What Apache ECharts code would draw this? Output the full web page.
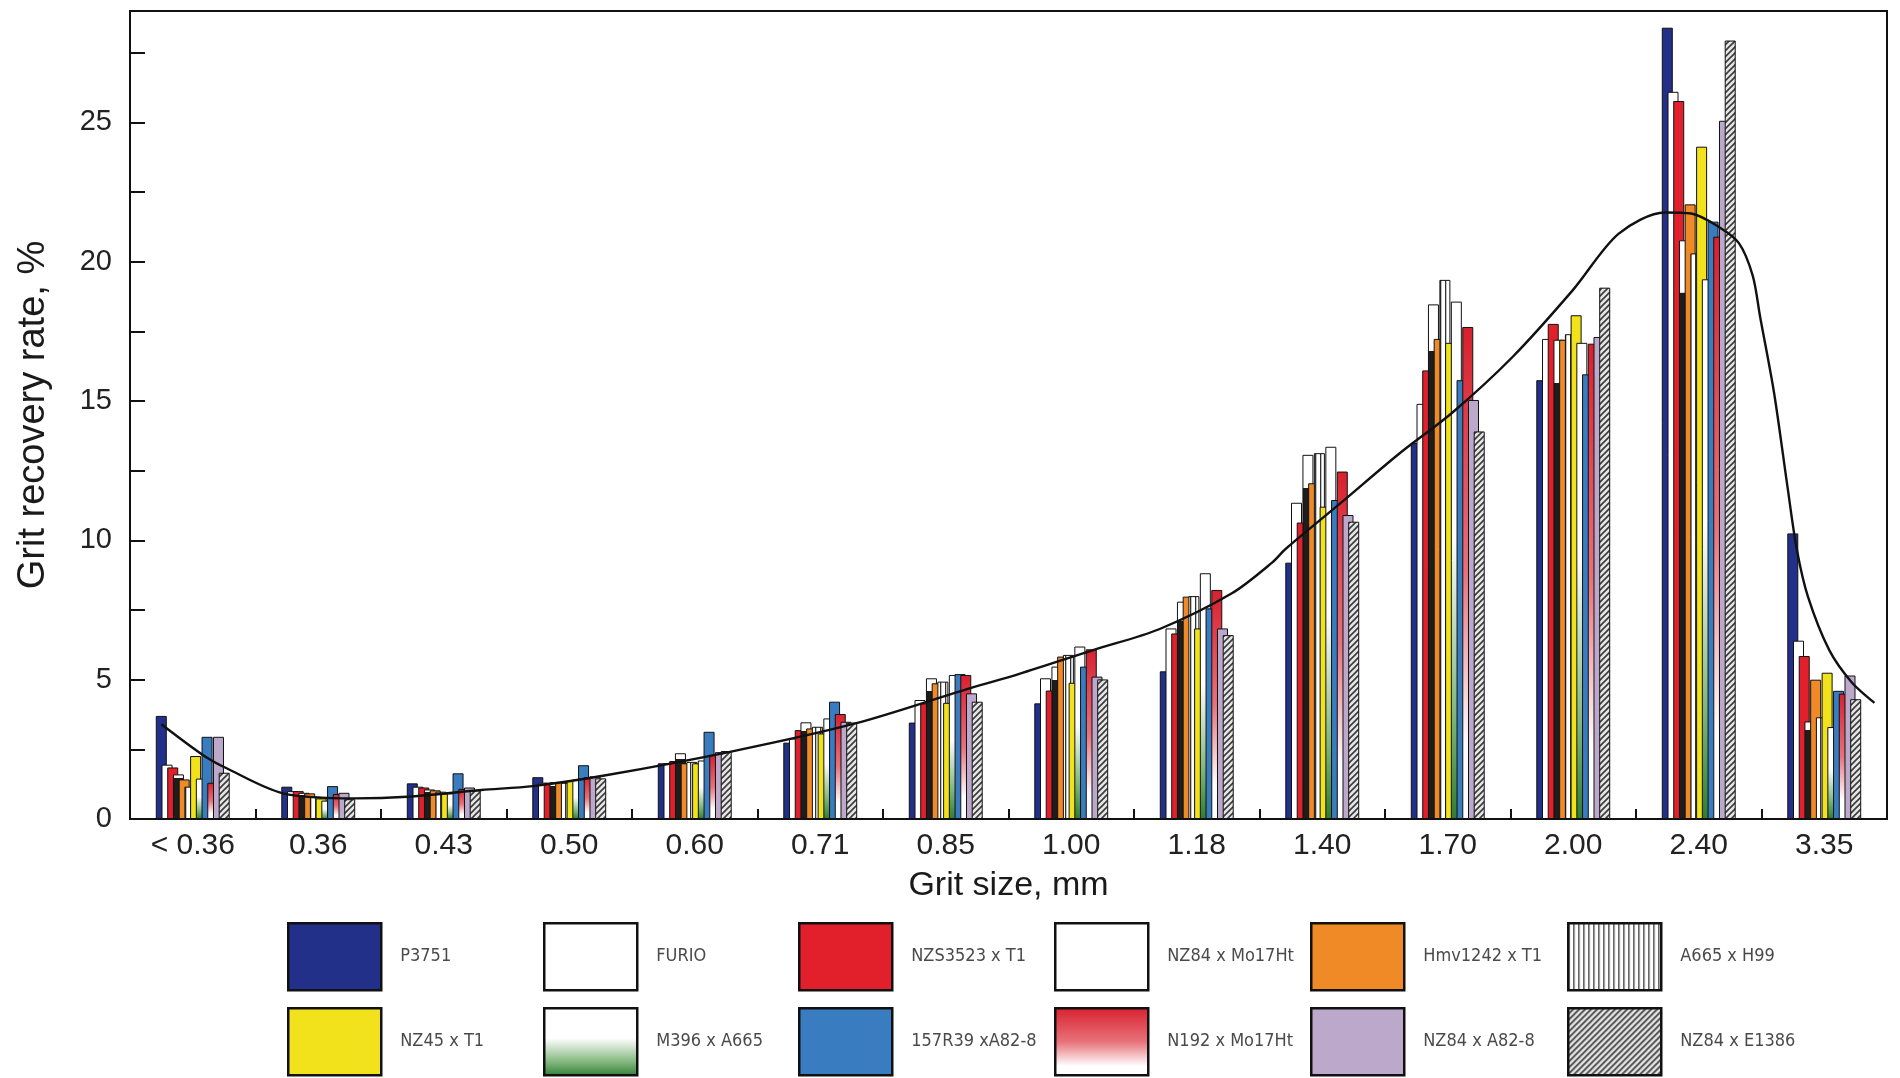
<!DOCTYPE html>
<html>
<head>
<meta charset="utf-8">
<title>Grit recovery rate by grit size</title>
<script src="https://cdn.jsdelivr.net/npm/echarts@6/dist/echarts.min.js"></script>
<style>
  html, body { margin: 0; padding: 0; background: #fff; }
  #chart { width: 1900px; height: 1078px; }
</style>
</head>
<body>
<div id="chart"></div>
<script>
// Grit size classes (mm)
const categories = ['< 0.36', '0.36', '0.43', '0.50', '0.60', '0.71', '0.85', '1.00', '1.18', '1.40', '1.70', '2.00', '2.40', '3.35'];

// Grit recovery rate (%) per hybrid / line
const P3751        = [3.70, 1.16, 1.28, 1.50, 2.00, 2.74, 3.46, 4.15, 5.30, 9.20, 13.50, 15.75, 28.40, 10.25];
const FURIO        = [1.95, 1.00, 1.16, 1.30, 2.00, 2.89, 4.27, 5.05, 6.84, 11.35, 14.90, 17.23, 26.10, 6.40];
const NZS3523_T1   = [1.85, 1.00, 1.13, 1.30, 2.08, 3.19, 4.15, 4.61, 6.66, 10.64, 16.10, 17.77, 25.77, 5.85];
const NZ84_Mo17Ht  = [1.60, 0.94, 1.06, 1.32, 2.36, 3.47, 5.05, 5.47, 7.80, 13.07, 18.47, 17.20, 20.77, 3.50];
const Hmv1242_T1   = [1.42, 0.92, 1.03, 1.33, 2.00, 3.25, 4.87, 5.83, 7.98, 12.05, 17.23, 17.20, 22.06, 5.00];
const A665_H99     = [1.16, 0.80, 0.98, 1.30, 2.05, 3.31, 4.93, 5.89, 8.00, 13.13, 19.35, 17.40, 20.30, 3.65];
const NZ45_T1      = [2.26, 0.74, 0.92, 1.38, 2.00, 3.07, 4.17, 4.89, 6.84, 11.21, 17.09, 18.08, 24.13, 5.25];
const M396_A665    = [1.45, 0.66, 0.92, 1.42, 2.10, 3.61, 5.17, 6.19, 8.82, 13.36, 18.57, 17.09, 19.37, 3.30];
const R157R39_A828 = [2.95, 1.18, 1.64, 1.93, 3.13, 4.21, 5.20, 5.47, 7.56, 11.45, 15.75, 15.96, 21.44, 4.60];
const N192_Mo17Ht  = [1.30, 0.90, 1.08, 1.50, 2.30, 3.77, 5.17, 6.09, 8.22, 12.47, 17.66, 17.06, 20.90, 4.50];
const NZ84_A828    = [2.95, 0.94, 1.13, 1.53, 2.40, 3.49, 4.51, 5.11, 6.84, 10.91, 15.04, 17.30, 25.06, 5.15];
const NZ84_E1386   = [1.66, 0.71, 1.03, 1.46, 2.44, 3.46, 4.21, 5.01, 6.60, 10.67, 13.91, 19.07, 27.94, 4.30];

// Mean distribution curve: position in size-class units and recovery rate (%)
const curveX = [-0.25, 0.08, 0.27, 0.72, 1.29, 1.71, 2.30, 2.71, 3.28, 4.29, 5.28, 6.19, 6.58, 7.18, 7.70, 8.28, 8.60, 8.71, 9.16, 9.61, 10.04, 10.52, 11.00, 11.36, 11.73, 11.94, 12.16, 12.32, 12.43, 12.49, 12.60, 12.71, 12.78, 12.87, 13.04, 13.22, 13.40];
const curveY = [3.40, 2.30, 1.82, 0.92, 0.74, 0.80, 1.04, 1.18, 1.56, 2.42, 3.43, 4.69, 5.20, 6.07, 6.81, 8.10, 9.20, 9.70, 11.39, 13.10, 14.60, 16.60, 19.00, 21.00, 21.77, 21.73, 21.25, 20.67, 19.50, 18.00, 15.30, 11.83, 9.71, 7.98, 6.06, 4.90, 4.17];

// Y axis: 0..29 with ticks every 2.5, labelled every 5
const yMin = 0, yMax = 29, yStep = 2.5;

// ---- fills ----
function makePattern(w, h, draw) {
  const c = document.createElement('canvas');
  c.width = w; c.height = h;
  draw(c.getContext('2d'), w, h);
  return { image: c, repeat: 'repeat' };
}
const verticalLines = makePattern(5, 5, (g, w, h) => {
  g.fillStyle = '#ffffff'; g.fillRect(0, 0, w, h);
  g.fillStyle = '#333333'; g.fillRect(0, 0, 1.3, h);
});
const diagonalHatch = makePattern(6, 6, (g, w, h) => {
  g.fillStyle = '#e6e6e6'; g.fillRect(0, 0, w, h);
  g.strokeStyle = '#3a3a3a'; g.lineWidth = 1.6;
  g.beginPath();
  g.moveTo(-1, 7); g.lineTo(7, -1);
  g.moveTo(-4, 4); g.lineTo(4, -4);
  g.moveTo(2, 10); g.lineTo(10, 2);
  g.stroke();
});
const greenFade = new echarts.graphic.LinearGradient(0, 0, 0, 1, [
  { offset: 0, color: '#ffffff' }, { offset: 0.45, color: '#ffffff' },
  { offset: 0.8, color: '#7fb57a' }, { offset: 1, color: '#2f7d32' }
]);
const redFade = new echarts.graphic.LinearGradient(0, 0, 0, 1, [
  { offset: 0, color: '#d8202e' }, { offset: 0.5, color: '#e8727a' },
  { offset: 0.85, color: '#ffffff' }, { offset: 1, color: '#ffffff' }
]);
// white-capped bar with a dark body
const whiteCapDark = new echarts.graphic.LinearGradient(0, 0, 0, 1, [
  { offset: 0, color: '#ffffff' }, { offset: 0.09, color: '#ffffff' },
  { offset: 0.091, color: '#1d1d1d' }, { offset: 1, color: '#1d1d1d' }
]);

const seriesDefs = [
  { name: 'P3751',          data: P3751,        fill: '#22308a' },
  { name: 'FURIO',          data: FURIO,        fill: '#ffffff' },
  { name: 'NZS3523 x T1',   data: NZS3523_T1,   fill: '#e2202c' },
  { name: 'NZ84 x Mo17Ht',  data: NZ84_Mo17Ht,  fill: whiteCapDark, legendFill: '#ffffff' },
  { name: 'Hmv1242 x T1',   data: Hmv1242_T1,   fill: '#ef8a26' },
  { name: 'A665 x H99',     data: A665_H99,     fill: verticalLines },
  { name: 'NZ45 x T1',      data: NZ45_T1,      fill: '#f1e21c' },
  { name: 'M396 x A665',    data: M396_A665,    fill: greenFade },
  { name: '157R39 xA82-8',  data: R157R39_A828, fill: '#3a7cc0' },
  { name: 'N192 x Mo17Ht',  data: N192_Mo17Ht,  fill: redFade },
  { name: 'NZ84 x A82-8',   data: NZ84_A828,    fill: '#bba8cb' },
  { name: 'NZ84 x E1386',   data: NZ84_E1386,   fill: diagonalHatch }
];

const barSeries = seriesDefs.map(d => ({
  name: d.name,
  type: 'bar',
  data: d.data,
  barWidth: 11,
  barGap: '-48%',
  itemStyle: { color: d.fill, borderColor: '#111', borderWidth: 1 },
  emphasis: { disabled: true }
}));

const curveSeries = {
  name: 'curve',
  type: 'line',
  xAxisIndex: 1,
  data: curveX.map((x, i) => [x, curveY[i]]),
  smooth: 0.3,
  showSymbol: false,
  lineStyle: { color: '#111', width: 2.4 },
  z: 5,
  silent: true
};

// One legend block per entry, arranged in two rows of six
const legendCols = [282, 538, 793, 1049, 1305, 1562];
const legendRows = [917, 1002];
const legends = seriesDefs.map((d, i) => ({
  show: true,
  selectedMode: false,
  left: legendCols[i % 6],
  top: legendRows[Math.floor(i / 6)],
  icon: 'rect',
  itemWidth: 93,
  itemHeight: 67,
  itemStyle: { borderColor: '#111', borderWidth: 2.5 },
  data: [d.legendFill ? { name: d.name, itemStyle: { color: d.legendFill } } : d.name],
  textStyle: {
    fontFamily: "'Liberation Sans Narrow', 'DejaVu Sans Condensed', sans-serif",
    fontSize: 18,
    color: '#4a4a4a',
    padding: [0, 0, 22, 14]
  }
}));

const chart = echarts.init(document.getElementById('chart'), null, { renderer: 'canvas' });
chart.setOption({
  animation: false,
  backgroundColor: '#ffffff',
  textStyle: { fontFamily: "'Liberation Sans', Arial, sans-serif" },
  grid: {
    left: 130, right: 13, top: 11, bottom: 259,
    show: true, borderColor: '#111', borderWidth: 2, backgroundColor: 'transparent'
  },
  legend: legends,
  xAxis: [
    {
      type: 'category',
      data: categories,
      boundaryGap: true,
      name: 'Grit size, mm',
      nameLocation: 'middle',
      nameGap: 50,
      nameTextStyle: { fontSize: 34, color: '#1a1a1a', fontFamily: "'Liberation Sans', Arial, sans-serif" },
      axisLine: { show: true, lineStyle: { color: '#111', width: 2 } },
      axisTick: { show: true, inside: true, length: 10, interval: 0, lineStyle: { color: '#111', width: 2 } },
      axisLabel: { interval: 0, margin: 12, fontSize: 30, color: '#222' },
      splitLine: { show: false }
    },
    {
      type: 'value',
      min: -0.5,
      max: 13.5,
      show: false
    }
  ],
  yAxis: {
    type: 'value',
    min: yMin,
    max: yMax,
    interval: yStep,
    name: 'Grit recovery rate, %',
    nameLocation: 'middle',
    nameGap: 77,
    nameTextStyle: { fontSize: 38, color: '#1a1a1a', fontFamily: "'Liberation Sans', Arial, sans-serif" },
    axisLine: { show: true, onZero: false, lineStyle: { color: '#111', width: 2 } },
    axisTick: { show: true, inside: true, length: 15, lineStyle: { color: '#111', width: 2 } },
    axisLabel: {
      margin: 18, fontSize: 29, color: '#222',
      formatter: v => (Math.abs(v % 5) < 1e-9 && v <= 25 ? String(v) : '')
    },
    splitLine: { show: false }
  },
  series: [...barSeries, curveSeries]
});
</script>
</body>
</html>
